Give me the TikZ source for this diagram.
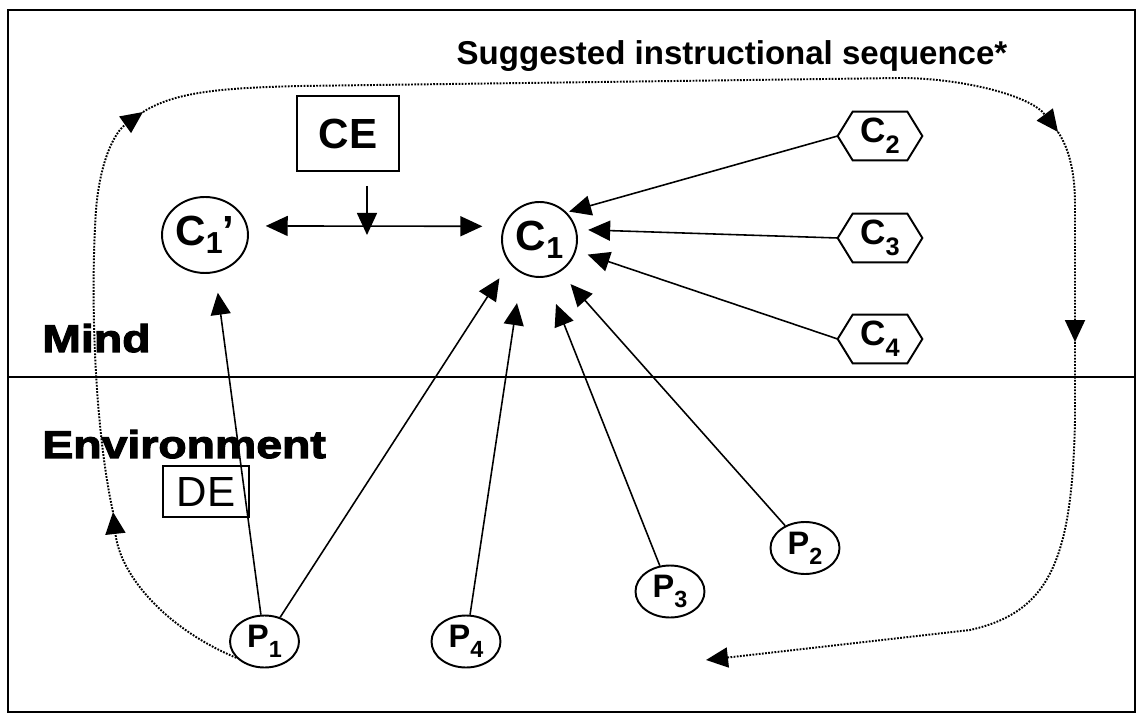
\documentclass[tikz,border=0pt]{standalone}
\usepackage{fontspec}
\setmainfont{Liberation Sans}
\newfontfamily\pesante[FakeBold=3,FakeStretch=1.2]{Liberation Sans Bold}
\usetikzlibrary{calc}
\usetikzlibrary{arrows.meta}
\usetikzlibrary{shapes.geometric}

\newcommand{\pd}[2][0.3em]{\raisebox{-#1}{\scalebox{0.72}{#2}}}

\begin{document}
\begin{tikzpicture}[x=0.02cm, y=-0.02cm,
  >={Triangle[length=4.4mm,width=4mm]},
  linea/.style={line width=0.9pt},
  bordo/.style={line width=1.1pt},
  percorso/.style={line width=1.1pt, dash pattern=on 1pt off 0.8pt},
  concetto/.style={draw, bordo, inner sep=0pt, font=\bfseries\fontsize{24}{26}\selectfont},
  esagono/.style={inner sep=0pt, minimum width=1.68cm, minimum height=0.96cm, font=\bfseries\fontsize{20}{22}\selectfont},
  evento/.style={ellipse, draw, bordo, inner sep=0pt, minimum width=1.38cm, minimum height=1.04cm, font=\bfseries\fontsize{18.5}{20}\selectfont},
  scatola/.style={draw, bordo, inner sep=0pt, font=\fontsize{24}{26}\selectfont}]
  \useasboundingbox (0,0) rectangle (1138,715);

  % Cornice e separazione mente / ambiente
  \draw[line width=1pt] (8,10) rectangle (1135,712);
  \draw[line width=1pt] (8,377) -- (1135,377);

  % Titolo e zone
  \node[anchor=base, font=\bfseries\fontsize{18.8}{20}\selectfont] (titolo) at (732,65) {Suggested instructional sequence*};
  \node[anchor=base west, inner sep=0pt, font=\pesante\fontsize{22}{24}\selectfont] (mente) at (42,352) {Mind};
  \node[anchor=base west, inner sep=0pt, font=\pesante\fontsize{22}{24}\selectfont] (ambiente) at (42,458) {Environment};

  % Concetti
  \node[concetto, ellipse, minimum width=1.72cm, minimum height=1.52cm] (C1p) at (205,235) {C\pd[0.18em]{1}’};
  \node[concetto, circle, minimum size=1.5cm] (C1) at (539.5,239.5) {C\pd[0.18em]{1}};
  \node[esagono] (C2) at (880,136) {C\pd{2}};
  \node[esagono] (C3) at (880,238) {C\pd{3}};
  \node[esagono] (C4) at (880,339) {C\pd{4}};
  \foreach \n in {C2,C3,C4}
    \draw[bordo] (\n.west) -- ([xshift=3mm]\n.north west) -- ([xshift=-3mm]\n.north east)
      -- (\n.east) -- ([xshift=-3mm]\n.south east) -- ([xshift=3mm]\n.south west) -- cycle;

  % Eventi
  \node[evento] (P1) at (264.5,641.5) {P\pd{1}};
  \node[evento] (P2) at (805,548) {P\pd{2}};
  \node[evento] (P3) at (670,591.5) {P\pd{3}};
  \node[evento] (P4) at (466,641.5) {P\pd{4}};

  % Riquadri CE e DE
  \node[scatola, font=\bfseries\fontsize{24}{26}\selectfont, minimum width=2.04cm, minimum height=1.5cm] (CE) at (348,133.5) {CE};
  \node[scatola, minimum width=1.72cm, minimum height=1.02cm] (DE) at (206,491.5) {DE};

  % Frecce verso C1
  \draw[linea, ->, shorten >=0.5mm] (C2.west) -- (C1.45);
  \draw[linea, ->, shorten >=2.3mm] (C3.west) -- (C1.15);
  \draw[linea, ->, shorten >=2.4mm] (C4.west) -- (C1.343);
  \draw[linea, ->, shorten >=3.6mm] (P1) -- (C1.218);
  \draw[linea, ->, shorten >=6mm] (P4) -- (C1.242);
  \draw[linea, ->, shorten >=5.7mm] (P3) -- (C1.279);
  \draw[linea, ->, shorten >=3.2mm] (P2) -- (C1.302);
  \draw[linea, ->, shorten >=4mm] (P1) -- (C1p.285);

  % Confronto C1' - C1 con CE
  \draw[linea, <->, shorten <=3.6mm, shorten >=4.2mm] (C1p.12) -- (C1.160);
  \coordinate (incrocio) at (367,235);
  \draw[linea, ->, shorten <=2.8mm] (CE.south -| incrocio) -- (incrocio);

  % Sequenza suggerita (tratteggiata)
  \coordinate (s1) at (113,512);
  \coordinate (s2) at (143,112);
  \coordinate (s3) at (1058,132);
  \coordinate (s4) at (1075,342);
  \coordinate (s5) at (706,660);
  \draw[percorso, ->] (P1.210) .. controls (165,628) and (120,575) .. (s1);
  \draw[percorso, ->] (s1) .. controls (95,430) and (90,300) .. (96,210) .. controls (100,160) and (115,132) .. (s2);
  \draw[percorso, ->] (s2) .. controls (175,92) and (220,88) .. (300,86) -- (900,78) .. controls (960,78) and (1030,95) .. (s3);
  \draw[percorso, ->] (s3) .. controls (1070,150) and (1075,175) .. (1075,205) -- (s4);
  \draw[percorso, ->] (s4) -- (1075,420) .. controls (1072,560) and (1050,612) .. (970,630) -- (s5);
\end{tikzpicture}
\end{document}
